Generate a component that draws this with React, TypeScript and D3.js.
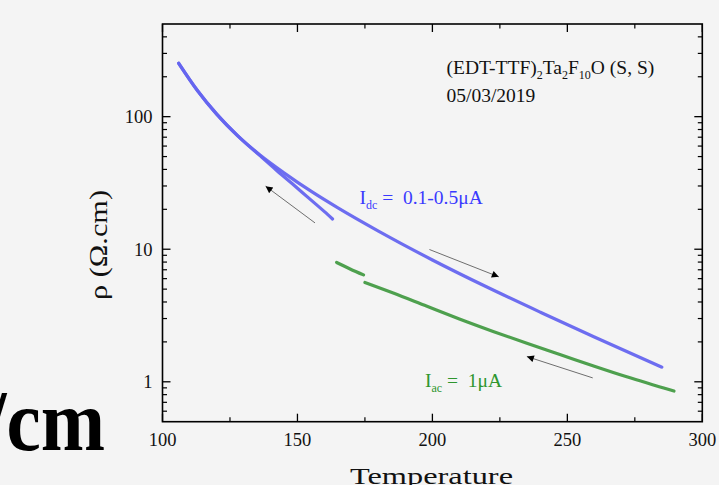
import React from "react";
import * as d3 from "d3";

// ---- data ----
const T_DC_WARM = [106, 113, 120, 128, 136, 145, 155, 165, 180, 200, 220, 240, 260, 285];
const RHO_DC_WARM = [253, 157, 105, 71.3, 51.6, 37.7, 27.4, 20.5, 13.7, 8.3, 5.21, 3.35, 2.18, 1.29];

const T_DC_COOL = [106, 113, 120, 128, 136, 142, 148, 154, 160, 163];
const RHO_DC_COOL = [253, 157, 105, 71.3, 51.0, 39.8, 31.3, 24.5, 19.2, 16.9];

const T_AC_1 = [164.5, 169.5, 174.5];
const RHO_AC_1 = [7.95, 7.1, 6.4];

const T_AC_2 = [175, 185.5, 198, 210, 222.5, 235, 247.5, 260, 272, 289.5];
const RHO_AC_2 = [5.61, 4.67, 3.71, 2.98, 2.4, 1.95, 1.6, 1.31, 1.09, 0.851];

const X_TICKS = [100, 150, 200, 250, 300];
const X_MINOR = [125, 175, 225, 275];
const Y_TICKS = [1, 10, 100];
const Y_TICK_LABELS = ["1", "10", "100"];

// arrows in data coordinates: [T tail, rho tail, T tip, rho tip]
const ARROWS = [
  [156.5, 15.8, 138.2, 29.9],
  [198.9, 9.95, 224.6, 6.19],
  [259.4, 1.07, 235.0, 1.55],
];

// ---- layout ----
const W = 719;
const H = 485;
const L = 162.5, R = 702.3, TOP = 24, BOT = 421.7;
const FONT = "'Liberation Serif', 'Times New Roman', Times, serif";
const BLUE_LINE = "#6565ef";
const GREEN_LINE = "#4ea04e";
const BLUE_TEXT = "#3a3aff";
const GREEN_TEXT = "#2e962e";

export default function App() {
  const x = d3.scaleLinear().domain([100, 300]).range([L, R]);
  const y = d3.scaleLog().domain([0.5, 500]).range([BOT, TOP]);

  const line = d3
    .line<[number, number]>()
    .x((d) => x(d[0]))
    .y((d) => y(d[1]))
    .curve(d3.curveMonotoneX);

  const zip = (a: number[], b: number[]) => a.map((v, i) => [v, b[i]] as [number, number]);

  const yMinor: number[] = [];
  [0.1, 1, 10, 100].forEach((dec) => {
    for (let k = 2; k <= 9; k++) {
      const v = k * dec;
      if (v > 0.5 && v < 500 && !Y_TICKS.includes(v)) yMinor.push(v);
    }
  });

  const MAJ = 8, MIN = 4.5;

  return (
    <svg
      width={W}
      height={H}
      style={{ position: "absolute", left: 0, top: 0, background: "#f4f4f4" }}
      fontFamily={FONT}
    >
      <defs>
        <marker id="ah" viewBox="0 0 10 10" refX="10" refY="5" markerWidth="11" markerHeight="7" markerUnits="userSpaceOnUse" orient="auto">
          <path d="M0,0 L10,5 L0,10 Z" fill="#000" />
        </marker>
      </defs>
      <rect x={0} y={0} width={W} height={H} fill="#f4f4f4" />

      {/* data curves */}
      <path d={line(zip(T_DC_COOL, RHO_DC_COOL)) || ""} fill="none" stroke={BLUE_LINE} strokeWidth={3.2} strokeLinecap="round" opacity={0.95} />
      <path d={line(zip(T_DC_WARM, RHO_DC_WARM)) || ""} fill="none" stroke={BLUE_LINE} strokeWidth={3.2} strokeLinecap="round" opacity={0.95} />
      <path d={line(zip(T_AC_1, RHO_AC_1)) || ""} fill="none" stroke={GREEN_LINE} strokeWidth={3.2} strokeLinecap="round" />
      <path d={line(zip(T_AC_2, RHO_AC_2)) || ""} fill="none" stroke={GREEN_LINE} strokeWidth={3.2} strokeLinecap="round" />

      {/* arrows */}
      {ARROWS.map((a, i) => (
        <line key={i} x1={x(a[0])} y1={y(a[1])} x2={x(a[2])} y2={y(a[3])} stroke="#6e6e6e" strokeWidth={1} markerEnd="url(#ah)" />
      ))}

      {/* frame */}
      <rect x={L} y={TOP} width={R - L} height={BOT - TOP} fill="none" stroke="#000" strokeWidth={1.6} />

      {/* x ticks */}
      {X_TICKS.map((t) => (
        <g key={"x" + t}>
          <line x1={x(t)} x2={x(t)} y1={BOT} y2={BOT - MAJ} stroke="#000" strokeWidth={1.3} />
          <line x1={x(t)} x2={x(t)} y1={TOP} y2={TOP + MAJ} stroke="#000" strokeWidth={1.3} />
          <text x={x(t)} y={446} fontSize={18.5} textAnchor="middle" fill="#111">{t}</text>
        </g>
      ))}
      {X_MINOR.map((t) => (
        <g key={"xm" + t}>
          <line x1={x(t)} x2={x(t)} y1={BOT} y2={BOT - MIN} stroke="#000" strokeWidth={1.2} />
          <line x1={x(t)} x2={x(t)} y1={TOP} y2={TOP + MIN} stroke="#000" strokeWidth={1.2} />
        </g>
      ))}

      {/* y ticks */}
      {Y_TICKS.map((v, i) => (
        <g key={"y" + v}>
          <line x1={L} x2={L + MAJ} y1={y(v)} y2={y(v)} stroke="#000" strokeWidth={1.3} />
          <line x1={R} x2={R - MAJ} y1={y(v)} y2={y(v)} stroke="#000" strokeWidth={1.3} />
          <text x={152.5} y={y(v) + 6.3} fontSize={18.5} textAnchor="end" fill="#111">{Y_TICK_LABELS[i]}</text>
        </g>
      ))}
      {yMinor.map((v) => (
        <g key={"ym" + v}>
          <line x1={L} x2={L + MIN} y1={y(v)} y2={y(v)} stroke="#000" strokeWidth={1.2} />
          <line x1={R} x2={R - MIN} y1={y(v)} y2={y(v)} stroke="#000" strokeWidth={1.2} />
        </g>
      ))}

      {/* axis titles */}
      <text
        transform="translate(106.5,245) rotate(-90)"
        fontSize={25}
        textAnchor="middle"
        fill="#111"
        textLength={110}
        lengthAdjust="spacingAndGlyphs"
      >
        ρ (Ω.cm)
      </text>
      <text x={431.5} y={484} fontSize={24} textAnchor="middle" fill="#111" textLength={163} lengthAdjust="spacingAndGlyphs">
        Temperature
      </text>

      {/* annotations */}
      <text x={446.5} y={74} fontSize={19.5} fill="#111">
        (EDT-TTF)<tspan fontSize={12} dy={5}>2</tspan>
        <tspan dy={-5}>Ta</tspan>
        <tspan fontSize={12} dy={5}>2</tspan>
        <tspan dy={-5}>F</tspan>
        <tspan fontSize={12} dy={5}>10</tspan>
        <tspan dy={-5}>O (S, S)</tspan>
      </text>
      <text x={446.5} y={102} fontSize={19.5} fill="#111">05/03/2019</text>

      <text x={359.5} y={204} fontSize={19.5} fill={BLUE_TEXT}>
        I<tspan fontSize={12} dy={5}>dc</tspan>
        <tspan dy={-5} xmlSpace="preserve">{" =  0.1-0.5μA"}</tspan>
      </text>
      <text x={425} y={387} fontSize={19.5} fill={GREEN_TEXT}>
        I<tspan fontSize={12} dy={5}>ac</tspan>
        <tspan dy={-5} xmlSpace="preserve">{" =  1μA"}</tspan>
      </text>

      {/* overlapping slide text fragment */}
      <text x={105} y={450} fontSize={86} fontWeight="bold" textAnchor="end" fill="#000" textLength={120} lengthAdjust="spacingAndGlyphs">
        /cm
      </text>
    </svg>
  );
}
